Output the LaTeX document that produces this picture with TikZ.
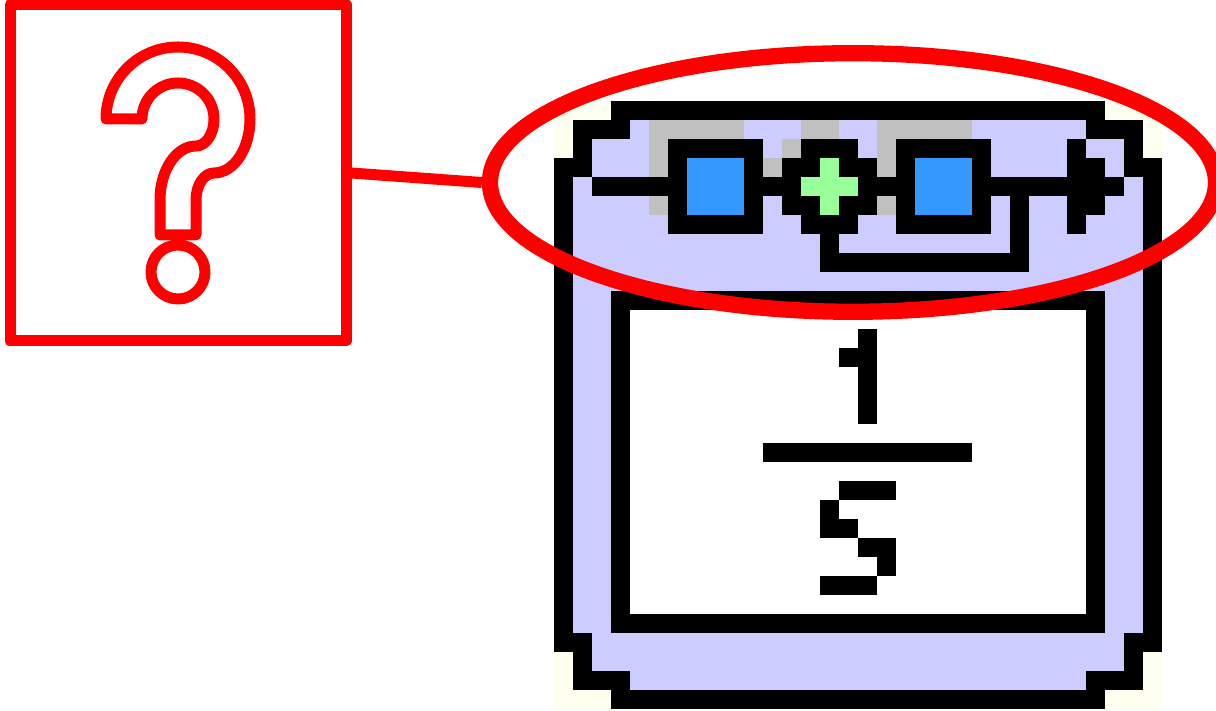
\documentclass[tikz,border=0pt]{standalone}
\usepackage{xcolor}
\usetikzlibrary{positioning,shapes.geometric}

\definecolor{iconLav}{HTML}{CCCCFF}
\definecolor{iconCream}{HTML}{FFFFF0}
\definecolor{iconGray}{HTML}{C0C0C0}
\definecolor{iconBlue}{HTML}{3399FF}
\definecolor{iconGreen}{HTML}{99FF99}

\begin{document}
\begin{tikzpicture}[
  x=0.5pt, y=0.5pt,
  mark line/.style={draw=red, line width=5.5pt, line join=round},
  helpBox/.style={rectangle, mark line, inner sep=0pt, minimum width=168pt, minimum height=168pt},
  helpDot/.style={circle, mark line, inner sep=0pt, minimum size=27pt},
  lens/.style={ellipse, draw=red, line width=8.15pt, inner sep=0pt, minimum width=363pt, minimum height=129.3pt}
]
  \useasboundingbox (0,0) rectangle (1216,711);

  \begin{scope}[shift={(554,610)}, x=9.5pt, y=-9.5pt]
    \foreach \cx/\cy/\cw/\ch in {0/0/3/1, 0/1/1/2, 29/0/3/1, 31/1/1/2, 0/29/1/3, 1/31/2/1, 31/29/1/3, 29/31/2/1}
      \fill[iconCream] (\cx,\cy) rectangle ++(\cw,\ch);
    \fill[iconLav] (1,1) rectangle (31,31);
    \foreach \cx/\cy/\cw/\ch in {5/1/5/1, 13/1/2/1, 17/1/5/1, 5/2/1/2, 5/5/1/1, 12/2/1/1, 11/3/1/1, 17/2/1/2, 17/5/1/1}
      \fill[iconGray] (\cx,\cy) rectangle ++(\cw,\ch);
    % frame
    \foreach \cx/\cy/\cw/\ch in {3/0/26/1, 1/1/3/1, 28/1/3/1, 1/2/1/2, 30/2/1/2, 0/3/1/26, 31/3/1/26,
        1/28/1/3, 30/28/1/3, 1/30/3/1, 28/30/3/1, 3/31/26/1, 3/10/26/18}
      \fill[black] (\cx,\cy) rectangle ++(\cw,\ch);
    \fill[white] (4,11) rectangle (28,27);
    % top row
    \foreach \cx/\cy/\cw/\ch in {2/4/28/1, 6/2/5/5, 18/2/5/5, 13/2/3/5, 12/3/5/3, 14/7/1/2, 14/8/11/1, 24/5/1/3, 27/2/1/5, 28/3/1/3}
      \fill[black] (\cx,\cy) rectangle ++(\cw,\ch);
    \foreach \cx in {7,19}
      \fill[iconBlue] (\cx,3) rectangle ++(3,3);
    \fill[iconGreen] (14,3) rectangle ++(1,3);
    \fill[iconGreen] (13,4) rectangle ++(3,1);
    % fraction
    \foreach \cx/\cy/\cw/\ch in {16/12/1/5, 15/13/1/1, 11/18/11/1, 15/20/3/1, 14/21/1/2, 15/22/1/1, 16/23/2/1, 17/24/1/1, 14/25/3/1}
      \fill[black] (\cx,\cy) rectangle ++(\cw,\ch);
  \end{scope}

  \node[lens] (lens) at (853,528.5) {};
  \node[helpBox] (help) at (178,538) {};
  \node[helpDot] (dot) at (178,439) {};

  \draw[mark line] (106,592) -- (142,592) arc (180:0:36) arc (0:-90:18 and 27)
    arc (90:180:36 and 54) -- (160,476) -- (196,476) -- (196,511)
    arc (180:90:18 and 27) arc (-90:0:36 and 54) arc (0:180:72) -- cycle;

  \draw[mark line] (help.east) -- (lens.west);
\end{tikzpicture}
\end{document}
